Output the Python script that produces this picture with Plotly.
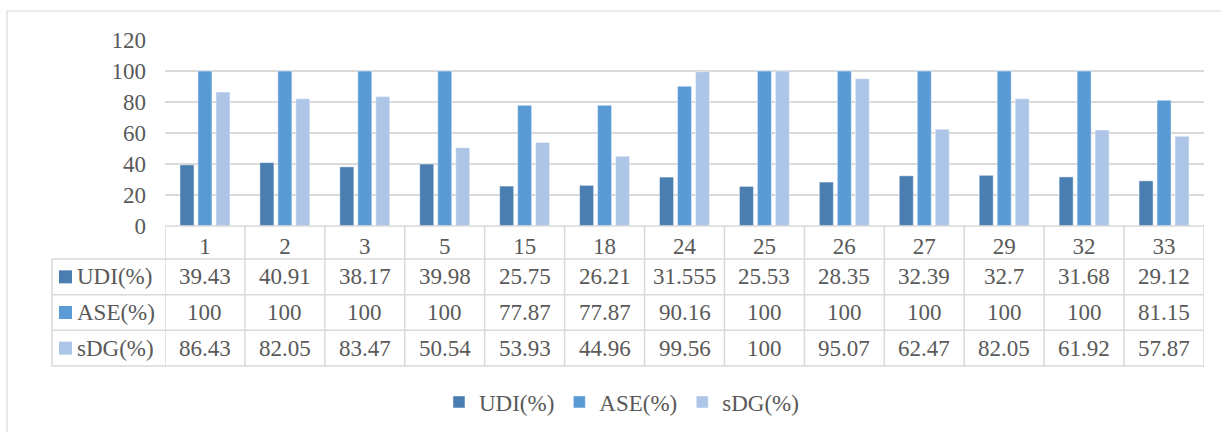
import plotly.graph_objects as go

# Sample numbers along the x axis
samples = ["1", "2", "3", "5", "15", "18", "24", "25", "26", "27", "29", "32", "33"]

# Metric values per sample (percent)
udi = [39.43, 40.91, 38.17, 39.98, 25.75, 26.21, 31.555, 25.53, 28.35, 32.39, 32.7, 31.68, 29.12]
ase = [100, 100, 100, 100, 77.87, 77.87, 90.16, 100, 100, 100, 100, 100, 81.15]
sdg = [86.43, 82.05, 83.47, 50.54, 53.93, 44.96, 99.56, 100, 95.07, 62.47, 82.05, 61.92, 57.87]

series_names = ["UDI(%)", "ASE(%)", "sDG(%)"]
series_values = [udi, ase, sdg]
series_colors = ["#4a7eb0", "#5b9bd5", "#adc6e7"]

y_ticks = [0, 20, 40, 60, 80, 100, 120]

W, H = 1221, 432
FONT = "Liberation Serif, Times New Roman, serif"
TXT = "#595959"
GRID = "#d9d9d9"


def px_x(p):
    return p / W


def px_y(p):
    return 1 - p / H


# layout geometry (pixels)
plot_left, plot_right = 165, 1204
plot_top, plot_bottom = 40, 226
table_left = 52
row_lines = [plot_bottom, 259, 294.7, 330.3, 366]

fig = go.Figure()
for name, vals, col in zip(series_names, series_values, series_colors):
    fig.add_trace(go.Bar(
        x=samples, y=vals, name=name,
        marker=dict(color=col, line=dict(width=1, color="rgba(255,255,255,0.45)")),
    ))

shapes = []
# vertical table lines at category boundaries
for i in range(len(samples) + 1):
    shapes.append(dict(type="line", xref="x", yref="paper",
                       x0=i - 0.5, x1=i - 0.5,
                       y0=px_y(row_lines[0]), y1=px_y(row_lines[-1]),
                       line=dict(color=GRID, width=1.5)))
# left edge of the series-label column
shapes.append(dict(type="line", xref="paper", yref="paper",
                   x0=px_x(table_left), x1=px_x(table_left),
                   y0=px_y(row_lines[1]), y1=px_y(row_lines[-1]),
                   line=dict(color=GRID, width=1.5)))
# horizontal table lines
for k, yy in enumerate(row_lines):
    x0 = plot_left if k == 0 else table_left
    shapes.append(dict(type="line", xref="paper", yref="paper",
                       x0=px_x(x0), x1=px_x(plot_right),
                       y0=px_y(yy), y1=px_y(yy),
                       line=dict(color=GRID, width=1.5)))
# chart frame
shapes.append(dict(type="rect", xref="paper", yref="paper",
                   x0=px_x(7), x1=1.02, y0=-0.02, y1=px_y(11),
                   line=dict(color=GRID, width=1.2), fillcolor="rgba(0,0,0,0)"))

annotations = []
for r, (name, vals, col) in enumerate(zip(series_names, series_values, series_colors)):
    yc = (row_lines[r + 1] + row_lines[r + 2]) / 2
    # legend key in the table
    shapes.append(dict(type="rect", xref="paper", yref="paper",
                       x0=px_x(59), x1=px_x(72),
                       y0=px_y(yc + 6.5), y1=px_y(yc - 6.5),
                       line=dict(width=0), fillcolor=col))
    annotations.append(dict(xref="paper", yref="paper", x=px_x(75), y=px_y(yc),
                            xanchor="left", yanchor="middle", showarrow=False,
                            text=name, font=dict(family=FONT, size=23, color=TXT)))
    for i, v in enumerate(vals):
        annotations.append(dict(xref="x", yref="paper", x=i, y=px_y(yc),
                                xanchor="center", yanchor="middle", showarrow=False,
                                text=f"{v:g}", font=dict(family=FONT, size=23, color=TXT)))

fig.update_layout(
    width=W, height=H,
    margin=dict(l=0, r=0, t=0, b=0, autoexpand=False),
    paper_bgcolor="white", plot_bgcolor="white",
    barmode="group", bargap=0.325, bargroupgap=0.22,
    font=dict(family=FONT, size=23, color=TXT),
    xaxis=dict(
        domain=[px_x(plot_left), px_x(plot_right)],
        type="category", range=[-0.5, len(samples) - 0.5],
        showgrid=False, showline=False, zeroline=False, automargin=False,
        ticks="", ticklabelstandoff=4,
        tickfont=dict(family=FONT, size=23, color=TXT),
    ),
    yaxis=dict(
        domain=[px_y(plot_bottom), px_y(plot_top)],
        range=[0, 120], tickvals=y_ticks,
        showgrid=True, gridcolor=GRID, gridwidth=1.5,
        zeroline=False, showline=False, automargin=False,
        ticks="", ticklabelstandoff=18,
        tickfont=dict(family=FONT, size=23, color=TXT),
    ),
    legend=dict(orientation="h", x=0.509, xanchor="center",
                y=px_y(402), yanchor="middle",
                font=dict(family=FONT, size=23, color=TXT)),
    shapes=shapes,
    annotations=annotations,
)

fig.write_html("out.html")
